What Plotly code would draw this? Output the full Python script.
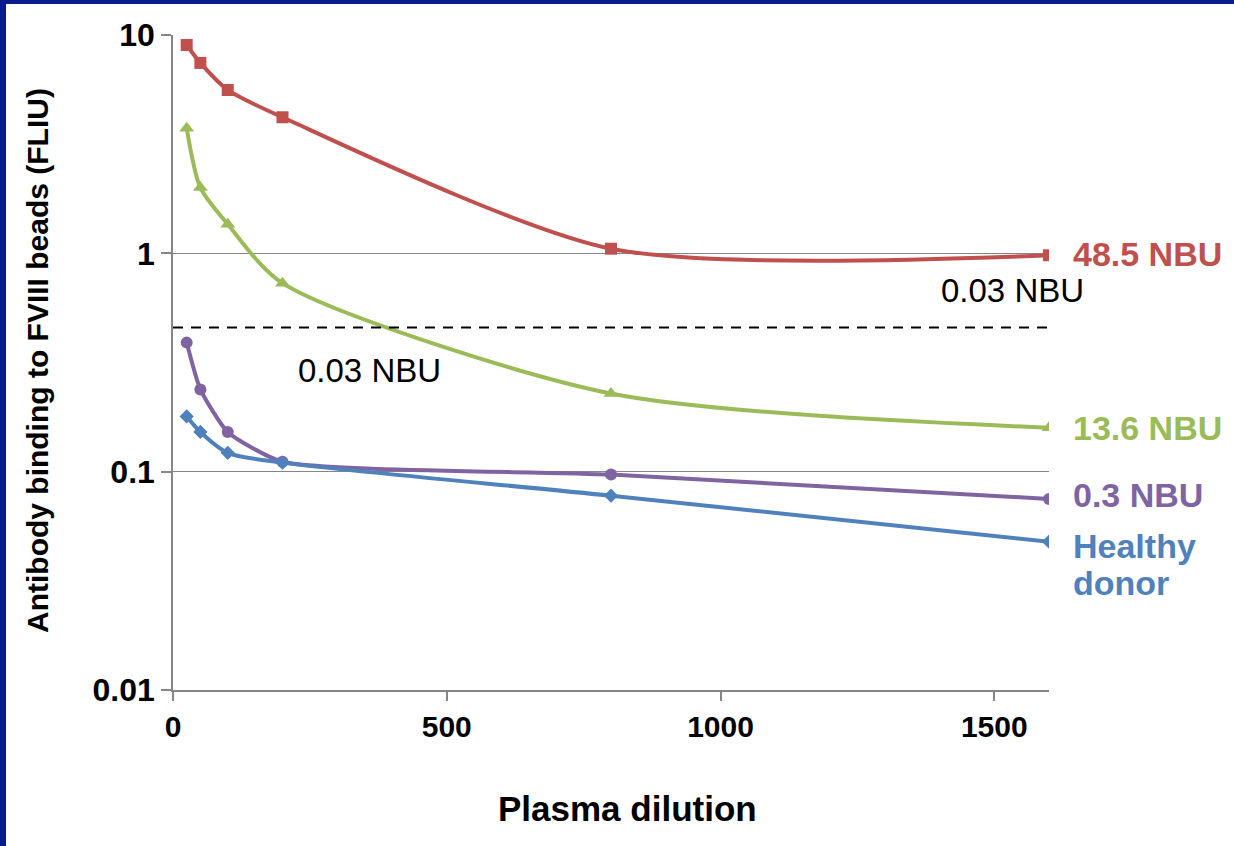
import numpy as np
import plotly.graph_objects as go

dilution = [25, 50, 100, 200, 800, 1600]
nbu_48_5 = [9.0, 7.45, 5.6, 4.2, 1.05, 0.98]
nbu_13_6 = [3.74, 2.0, 1.36, 0.73, 0.228, 0.159]
nbu_0_3 = [0.39, 0.238, 0.152, 0.111, 0.097, 0.075]
healthy = [0.179, 0.152, 0.122, 0.110, 0.0776, 0.0478]
threshold = 0.458
x_range = [0, 1600]
x_ticks = [0, 500, 1000, 1500]
y_ticks = [0.01, 0.1, 1, 10]
y_tick_labels = ["0.01", "0.1", "1", "10"]

series = [
    ("48.5 NBU", nbu_48_5, "#C0504D", "square", 12, 0.75),
    ("13.6 NBU", nbu_13_6, "#9BBB59", "triangle-up", 13, 0.75),
    ("0.3 NBU", nbu_0_3, "#8064A2", "circle", 12, 0.55),
    ("Healthy donor", healthy, "#4F81BD", "diamond", 11, 0.75),
]

FONT = "Arial, 'Liberation Sans', sans-serif"

fig = go.Figure()
for name, ys, color, sym, size, sm in series:
    fig.add_trace(go.Scatter(
        x=dilution, y=ys, mode="lines+markers", name=name,
        line=dict(color=color, width=4, shape="spline", smoothing=sm),
        marker=dict(symbol=sym, size=size, color=color),
        showlegend=False,
    ))

fig.add_trace(go.Scatter(
    x=x_range, y=[threshold, threshold], mode="lines",
    line=dict(color="black", width=2, dash="10px,8px"), showlegend=False,
))

W, H = 1234, 846
L, R, T, B = 173, 185, 35, 156
pw, ph = W - L - R, H - T - B
def px(x):
    return (x - L) / pw
def py(y):
    return (H - B - y) / ph

label_shift = {"48.5 NBU": 1, "13.6 NBU": 0, "0.3 NBU": 4}
annotations = []
for name, ys, color, sym, size, sm in series:
    if name == "Healthy donor":
        for i, word in enumerate(["Healthy", "donor"]):
            annotations.append(dict(
                x=x_range[1], y=np.log10(ys[-1]), xref="x", yref="y",
                text="<b>%s</b>" % word, showarrow=False, xanchor="left",
                yanchor="middle", xshift=22, yshift=-4 - 37 * i,
                font=dict(family=FONT, size=34, color=color)))
    else:
        annotations.append(dict(
            x=x_range[1], y=np.log10(ys[-1]), xref="x", yref="y",
            text="<b>%s</b>" % name, showarrow=False, xanchor="left",
            yanchor="middle", xshift=22, yshift=label_shift[name],
            font=dict(family=FONT, size=34, color=color)))

annotations.append(dict(
    x=px(369), y=py(371), xref="paper", yref="paper", text="0.03 NBU",
    showarrow=False, xanchor="center", yanchor="middle",
    font=dict(family=FONT, size=33, color="black")))
annotations.append(dict(
    x=px(1012), y=py(290), xref="paper", yref="paper", text="0.03 NBU",
    showarrow=False, xanchor="center", yanchor="middle",
    font=dict(family=FONT, size=33, color="black")))
annotations.append(dict(
    x=px(37), y=py(361), xref="paper", yref="paper",
    text="<b>Antibody binding to FVIII beads (FLIU)</b>", textangle=-90,
    showarrow=False, xanchor="center", yanchor="middle",
    font=dict(family=FONT, size=30, color="black")))
annotations.append(dict(
    x=px(627), y=py(808), xref="paper", yref="paper",
    text="<b>Plasma dilution</b>",
    showarrow=False, xanchor="center", yanchor="middle",
    font=dict(family=FONT, size=35, color="black")))

shapes = [
    dict(type="rect", xref="paper", yref="paper", x0=px(0), x1=px(6),
         y0=py(H), y1=py(0), fillcolor="#0A1C8C", line=dict(width=0), layer="above"),
    dict(type="rect", xref="paper", yref="paper", x0=px(0), x1=px(W),
         y0=py(4), y1=py(0), fillcolor="#0A1C8C", line=dict(width=0), layer="above"),
]

fig.update_layout(
    width=W, height=H,
    margin=dict(l=L, r=R, t=T, b=B),
    paper_bgcolor="white", plot_bgcolor="white",
    annotations=annotations, shapes=shapes,
    font=dict(family=FONT, color="black"),
)
fig.update_xaxes(
    range=x_range, tickvals=x_ticks, ticktext=["<b>%d</b>" % v for v in x_ticks],
    tickfont=dict(family=FONT, size=30, color="black"),
    ticks="outside", ticklen=9, tickcolor="#868686", tickwidth=1.5,
    showline=True, linecolor="#868686", linewidth=1.5,
    showgrid=False, zeroline=False,
)
fig.update_yaxes(
    type="log", range=[-2, 1], tickvals=y_ticks,
    ticktext=["<b>%s</b>" % t for t in y_tick_labels],
    tickfont=dict(family=FONT, size=32, color="black"),
    ticks="outside", ticklen=10, tickcolor="#868686", tickwidth=1.5,
    showline=True, linecolor="#868686", linewidth=1.5,
    showgrid=True, gridcolor="#868686", gridwidth=1.2,
    zeroline=False,
)

fig.write_html("out.html", config={"displayModeBar": False},
               post_script="document.body.style.margin='0';")
